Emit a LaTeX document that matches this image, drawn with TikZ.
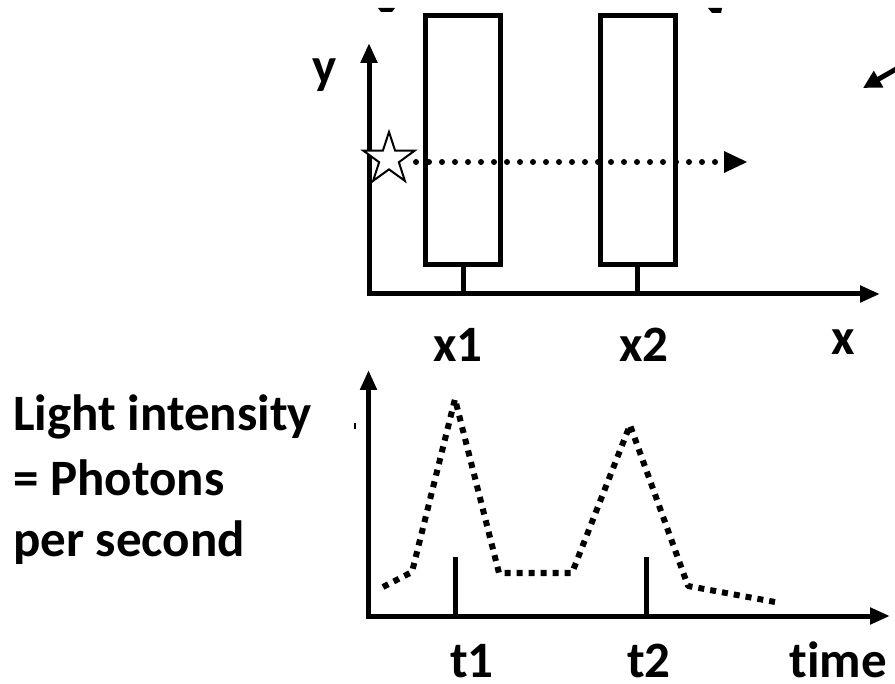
\documentclass[tikz,border=0pt]{standalone}
\usepackage{fontspec}
\setmainfont{Carlito}[Ligatures=NoCommon]
\usetikzlibrary{arrows.meta,shapes.geometric}
\tikzset{
  axis/.style={line width=5pt,-{Triangle[length=20pt,width=16pt]}},
  boxe/.style={draw,line width=5pt,minimum width=75pt,minimum height=249pt,inner sep=0pt},
  stem/.style={line width=5pt},
  lbl/.style={font=\fontsize{51}{60}\selectfont\bfseries,anchor=base,inner sep=0pt},
  curve/.style={line width=6pt,dash pattern=on 6pt off 6pt,line join=round},
  ray/.style={line width=6pt,dash pattern=on 0pt off 13pt,line cap=round},
}
\begin{document}
\begin{tikzpicture}[x=1pt,y=-1pt]
\useasboundingbox (0,0) rectangle (895,684);
% top diagram
\coordinate (O1) at (369,294);
\coordinate (Y1) at (369,43);
\coordinate (X1) at (880,294);
\draw[axis] (O1) -- (Y1);
\draw[axis] ([xshift=-2.5pt]O1) -- (X1);
\node[boxe] (b1) at (463,140) {};
\node[boxe] (b2) at (637.5,140) {};
\coordinate (s1) at (463,294);
\coordinate (s2) at (637.5,294);
\draw[stem] (b1.south) -- (s1);
\draw[stem] (b2.south) -- (s2);
\node[star,star points=5,star point ratio=2.6,minimum size=54pt,inner sep=0pt,draw,fill=white,line width=2pt] (st) at (389,159) {};
\coordinate (rayend) at (747,162);
\draw[ray] (416,162) -- (722,162);
\fill (724,151) -- (747,162) -- (724,173) -- cycle;
\node[lbl] (ly) at (325,84) {y};
\node[lbl] (lx) at (843,355) {x};
\node[lbl] (lx1) at (458,362) {x1};
\node[lbl] (lx2) at (644,362) {x2};
% top-right cut arrow
\coordinate (ta) at (898,68);
\coordinate (tb) at (863,88);
\draw[line width=5pt,-{Triangle[length=18pt,width=18pt]}] (ta) -- (tb);
% small marks at top
\fill (378,8) -- (395,8) -- (392,12) -- (381,12) -- cycle;
\fill (708,8) -- (722,8) -- (721,13) -- (712,13) -- cycle;
\draw[line width=1.5pt] (355,423) -- (355,429);
% bottom diagram
\coordinate (O2) at (368.5,616);
\coordinate (Y2) at (368.5,370);
\coordinate (X2) at (890,616);
\draw[axis] (O2) -- (Y2);
\draw[axis] ([xshift=-2.5pt]O2) -- (X2);
\coordinate (t1a) at (455.5,557);
\coordinate (t1b) at (455.5,616);
\coordinate (t2a) at (646,557);
\coordinate (t2b) at (646,616);
\draw[stem] (t1a) -- (t1b);
\draw[stem] (t2a) -- (t2b);
\draw[curve] (383,587) -- (412,572) -- (455,399) -- (499,573) -- (572,573) -- (630,425) -- (688,586) -- (775,602);
\node[lbl] (lt1) at (472,677) {t1};
\node[lbl] (lt2) at (649,677) {t2};
\node[lbl] (ltime) at (838,677) {time};
\node[lbl,anchor=base west] (li1) at (13,431) {Light intensity};
\node[lbl,anchor=base west] (li2) at (13,496) {= Photons};
\node[lbl,anchor=base west] (li3) at (13,557) {per second};
\end{tikzpicture}
\end{document}
